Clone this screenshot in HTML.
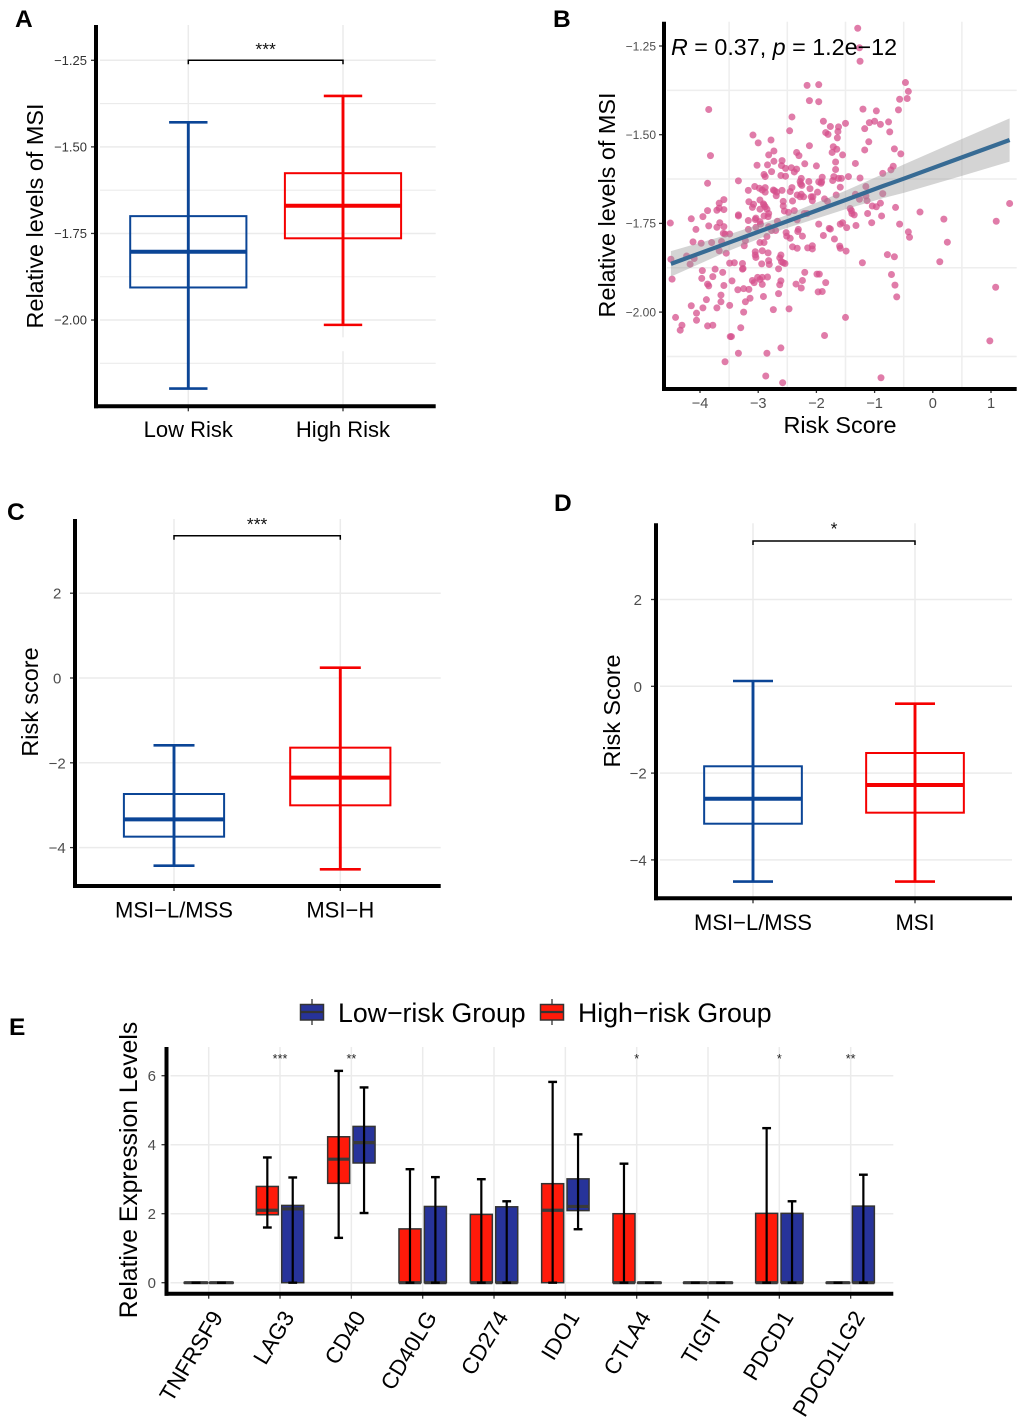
<!DOCTYPE html>
<html lang="en">
<head>
<meta charset="utf-8">
<title>Risk score and MSI panels</title>
<style>
html,body{margin:0;padding:0;background:#fff;}
svg{display:block;font-family:"Liberation Sans",Arial,sans-serif;}
.panel-letter{font-size:24.5px;font-weight:700;fill:#000;}
.title{font-size:23.4px;fill:#000;}
.cat{font-size:22px;fill:#000;}
.legend-text{font-size:26.7px;fill:#000;}
</style>
</head>
<body>
<svg id="chart" width="1020" height="1420" viewBox="0 0 1020 1420" xmlns="http://www.w3.org/2000/svg">
  <rect x="0" y="0" width="1020" height="1420" fill="#fff"/>
  <text class="panel-letter" x="15" y="27">A</text>
  <text class="panel-letter" x="553" y="27">B</text>
  <text class="panel-letter" x="7" y="520">C</text>
  <text class="panel-letter" x="554" y="511">D</text>
  <text class="panel-letter" x="9" y="1035">E</text>

  <g id="panel-a"></g>
  <g id="panel-b"></g>
  <g id="panel-c"></g>
  <g id="panel-d"></g>
  <g id="panel-e"></g>

  <text class="title" transform="translate(43,216) rotate(-90)" text-anchor="middle">Relative levels of MSI</text>
  <text class="title" transform="translate(615,205) rotate(-90)" text-anchor="middle">Relative levels of MSI</text>
  <text class="title" x="840" y="433" text-anchor="middle">Risk Score</text>
  <text x="671" y="55" style="font-size:23.3px"><tspan font-style="italic">R</tspan> = 0.37, <tspan font-style="italic">p</tspan> = 1.2e−12</text>
  <text class="title" transform="translate(38,702) rotate(-90)" text-anchor="middle">Risk score</text>
  <text class="title" transform="translate(620,711) rotate(-90)" text-anchor="middle">Risk Score</text>
  <text transform="translate(137,1170) rotate(-90)" text-anchor="middle" style="font-size:24.7px">Relative Expression Levels</text>

  <g>
    <line x1="312" y1="999" x2="312" y2="1025" stroke="#333" stroke-width="1.3"/>
    <rect x="300.5" y="1004.5" width="23" height="15.5" fill="#27339a" stroke="#333" stroke-width="1.5"/>
    <line x1="300.5" y1="1012" x2="323.5" y2="1012" stroke="#333" stroke-width="2.2"/>
    <text class="legend-text" x="338" y="1022">Low−risk Group</text>
    <line x1="552" y1="999" x2="552" y2="1025" stroke="#333" stroke-width="1.3"/>
    <rect x="540.5" y="1004.5" width="23" height="15.5" fill="#ff1a0a" stroke="#333" stroke-width="1.5"/>
    <line x1="540.5" y1="1012" x2="563.5" y2="1012" stroke="#333" stroke-width="2.2"/>
    <text class="legend-text" x="578" y="1022">High−risk Group</text>
  </g>
</svg>

<script>
// ---- Panel A data: [lower whisker, Q1, median, Q3, upper whisker]
const panelACategories = ['Low Risk', 'High Risk'];
const panelATicks = [-1.25, -1.5, -1.75, -2];
const panelAMinorTicks = [-1.375, -1.625, -1.875, -2.125];
const panelALowRisk = [-2.198, -1.906, -1.803, -1.70, -1.429];
const panelAHighRisk = [-2.014, -1.764, -1.670, -1.576, -1.353];

// ---- Panel C data
const panelCCategories = ['MSI−L/MSS', 'MSI−H'];
const panelCTicks = [2, 0, -2, -4];
const panelCLow = [-4.426, -3.742, -3.333, -2.736, -1.587];
const panelCHigh = [-4.513, -3.003, -2.351, -1.643, 0.243];

// ---- Panel D data
const panelDCategories = ['MSI−L/MSS', 'MSI'];
const panelDTicks = [2, 0, -2, -4];
const panelDLow = [-4.50, -3.166, -2.59, -1.843, 0.122];
const panelDHigh = [-4.50, -2.912, -2.274, -1.537, -0.40];

// ---- Panel B data
const scatterXTicks = [-4, -3, -2, -1, 0, 1];
const scatterXMinor = [-3.5, -2.5, -1.5, -0.5, 0.5];
const scatterYTicks = [-1.25, -1.5, -1.75, -2];
const scatterYMinor = [-1.375, -1.625, -1.875, -2.125];
const riskScores = [
-1.29,-1.26,-1.25,-2.16,-1.96,-0.47,-0.42,-0.57,-0.44,-2.12,
-1.96,-3.85,-1.20,-0.97,-0.59,-2.42,-1.88,-1.76,-1.62,-1.63,
-1.50,-1.09,-1.00,-0.90,-0.76,-0.74,-1.17,-2.46,-3.09,-1.84,
-1.80,-1.64,-2.78,-3.00,-1.10,-2.12,-1.71,-1.65,-1.73,-1.17,
-0.66,-0.55,-2.73,-2.82,-3.82,-2.34,-2.30,-1.55,-1.67,-1.33,
-2.59,-2.73,-2.60,-3.02,-2.84,-2.20,-2.00,-0.68,-0.72,-0.86,
-1.67,-2.53,-2.43,-2.34,-2.38,-2.77,-2.90,-2.88,-2.61,-2.53,
-1.70,-1.62,-1.57,-1.45,-1.90,-1.25,-1.72,-2.26,-2.28,-2.13,
-1.96,-1.91,-1.92,-2.27,-3.34,-3.87,-2.25,-3.06,-2.98,-2.88,
-2.42,-2.11,-1.59,-1.15,-3.17,-2.93,-2.74,-2.72,-2.88,-2.68,
-2.59,-2.45,-1.98,-0.86,-2.33,-2.26,-2.22,-2.28,-2.69,-2.09,
-2.06,-1.66,-1.33,-1.26,-1.15,-3.59,-3.67,-3.16,-3.08,-2.97,
-2.91,-2.57,-2.41,-2.07,-1.86,-1.81,-1.13,-0.90,-1.04,-0.97,
-0.64,1.32,-3.10,-3.71,-3.67,-3.59,-3.87,-2.90,-2.88,-2.97,
-2.85,-2.82,-2.55,-2.48,-2.38,-2.57,-2.21,-2.16,-1.42,-1.40,
-1.12,-0.22,-3.95,-4.15,-3.34,-3.34,-3.04,-3.05,-2.97,-2.83,
-2.90,-1.39,-1.35,-0.88,-4.51,-3.66,-3.17,-2.33,-2.67,-1.96,
-1.55,-1.59,-1.48,-1.32,-1.05,-0.57,0.19,1.09,-3.85,-3.71,
-3.59,-4.07,-3.04,-2.96,-2.82,-1.78,-2.31,-2.32,-2.24,-2.52,
-2.51,-2.45,-2.77,-2.70,-2.85,-3.17,-3.22,-3.24,-2.97,-2.90,
-4.12,-3.98,-3.80,-3.63,-3.57,-3.49,-3.60,-3.67,-3.55,-4.23,
-4.17,-4.10,-4.50,-4.48,-3.96,-3.74,-3.61,-3.97,-3.78,-3.87,
-3.85,-3.59,-3.45,-3.49,-3.41,-3.27,-3.26,-3.27,-3.05,-3.05,
-3.04,-2.93,-2.83,-2.61,-2.63,-2.60,-2.57,-2.54,-2.82,-2.81,
-2.94,-2.65,-2.20,-1.99,-1.95,-3.10,-3.07,-3.01,-2.93,-2.97,
-2.84,-2.93,-2.61,-2.63,-2.35,-2.24,-2.26,-1.84,-3.35,-3.25,
-3.16,-3.64,-3.64,-3.89,-4.15,-3.95,-3.71,-4.06,-3.49,-3.22,
-3.14,-2.91,-2.65,-1.97,-1.90,-2.74,-2.47,-3.25,-4.42,-4.06,
-4.31,-4.34,-3.87,-3.78,-3.30,-3.48,-3.46,-1.50,-1.86,-3.34,
-2.85,-2.61,-3.57,-2.87,-2.58,-0.89,0.98,1.08,0.12,0.25,
-0.40,-0.42,-0.78,-0.66,-0.71,-0.65,-0.62,-1.21,-1.49,-1.59,
-1.60,-1.69,-1.88,-1.76,-2.07,-2.07,-2.15,-2.33,-2.41
];
const msiLevels = [
-1.200,-1.255,-1.293,-1.361,-1.359,-1.353,-1.378,-1.400,-1.398,-1.404,
-1.407,-1.429,-1.428,-1.433,-1.430,-1.450,-1.462,-1.477,-1.478,-1.491,
-1.468,-1.466,-1.462,-1.471,-1.464,-1.492,-1.483,-1.489,-1.501,-1.494,
-1.499,-1.509,-1.515,-1.523,-1.520,-1.531,-1.534,-1.541,-1.550,-1.543,
-1.540,-1.554,-1.546,-1.557,-1.559,-1.550,-1.559,-1.557,-1.577,-1.581,
-1.573,-1.575,-1.587,-1.586,-1.585,-1.582,-1.588,-1.589,-1.599,-1.609,
-1.598,-1.595,-1.593,-1.597,-1.605,-1.604,-1.612,-1.618,-1.615,-1.617,
-1.618,-1.623,-1.623,-1.618,-1.620,-1.622,-1.629,-1.623,-1.632,-1.632,
-1.633,-1.633,-1.637,-1.639,-1.630,-1.637,-1.643,-1.646,-1.651,-1.649,
-1.649,-1.652,-1.648,-1.646,-1.657,-1.656,-1.656,-1.658,-1.662,-1.662,
-1.657,-1.660,-1.662,-1.666,-1.670,-1.668,-1.675,-1.675,-1.672,-1.675,
-1.675,-1.670,-1.668,-1.682,-1.673,-1.683,-1.693,-1.689,-1.696,-1.684,
-1.695,-1.688,-1.687,-1.686,-1.681,-1.688,-1.686,-1.693,-1.701,-1.703,
-1.705,-1.694,-1.705,-1.713,-1.707,-1.711,-1.714,-1.698,-1.703,-1.710,
-1.710,-1.722,-1.715,-1.719,-1.714,-1.701,-1.722,-1.722,-1.708,-1.714,
-1.722,-1.718,-1.731,-1.737,-1.726,-1.729,-1.735,-1.739,-1.745,-1.731,
-1.729,-1.722,-1.726,-1.729,-1.749,-1.748,-1.742,-1.740,-1.744,-1.752,
-1.748,-1.752,-1.762,-1.756,-1.748,-1.752,-1.738,-1.744,-1.757,-1.761,
-1.759,-1.767,-1.761,-1.752,-1.759,-1.764,-1.767,-1.773,-1.786,-1.776,
-1.786,-1.792,-1.770,-1.770,-1.787,-1.767,-1.799,-1.813,-1.804,-1.804,
-1.802,-1.806,-1.804,-1.801,-1.780,-1.780,-1.778,-1.827,-1.834,-1.842,
-1.865,-1.849,-1.851,-1.907,-1.883,-1.879,-1.888,-1.905,-1.900,-1.921,
-1.926,-1.925,-1.912,-1.862,-1.861,-1.863,-1.877,-1.879,-1.830,-1.839,
-1.846,-1.827,-1.833,-1.839,-1.847,-1.858,-1.861,-1.863,-1.855,-1.866,
-1.864,-1.878,-1.888,-1.893,-1.893,-1.911,-1.917,-1.902,-1.902,-1.908,
-1.901,-1.922,-1.912,-1.923,-1.921,-1.911,-1.932,-1.917,-1.937,-1.934,
-1.936,-1.952,-1.971,-1.965,-1.982,-1.988,-1.988,-2.003,-1.981,-1.971,
-1.961,-1.956,-1.948,-1.943,-1.942,-1.993,-1.991,-2.000,-2.015,-2.023,
-2.037,-2.051,-2.039,-2.037,-2.044,-2.069,-2.069,-2.015,-2.066,-2.116,
-2.116,-2.101,-2.140,-2.180,-2.199,-2.185,-2.081,-1.930,-1.858,-1.803,
-1.789,-1.774,-1.838,-1.844,-1.894,-1.924,-1.957,-1.861,-1.828,-1.820,
-1.814,-1.794,-1.784,-1.766,-1.813,-1.822,-1.819,-1.820,-1.816
];
const fitX = [-4.5, -3.5, -2.6, -1.5, -0.86, -0.5, 0.5, 1.32];
const fitY = [-1.864, -1.804, -1.750, -1.684, -1.645, -1.624, -1.564, -1.515];
const fitUpper = [-1.828, -1.781, -1.732, -1.658, -1.611, -1.584, -1.512, -1.454];
const fitLower = [-1.900, -1.827, -1.768, -1.710, -1.679, -1.664, -1.616, -1.576];

// ---- Panel E data (one entry per gene)
const geneNames = ['TNFRSF9','LAG3','CD40','CD40LG','CD274','IDO1','CTLA4','TIGIT','PDCD1','PDCD1LG2'];
const geneStars = ['','***','**','','','','*','','*','**'];
const geneTicks = [0, 2, 4, 6];
const highRiskLower = [0, 1.60, 1.30, 0, 0, 0, 0, 0, 0, 0];
const highRiskQ1 = [0, 1.97, 2.88, 0, 0, 0, 0, 0, 0, 0];
const highRiskMedian = [0, 2.10, 3.58, 0, 0, 2.10, 0, 0, 0, 0];
const highRiskQ3 = [0, 2.79, 4.23, 1.56, 1.98, 2.87, 2.00, 0, 2.01, 0];
const highRiskUpper = [0, 3.63, 6.14, 3.29, 3.00, 5.82, 3.45, 0, 4.48, 0];
const lowRiskLower = [0, 0, 2.02, 0, 0, 1.55, 0, 0, 0, 0];
const lowRiskQ1 = [0, 0, 3.47, 0, 0, 2.09, 0, 0, 0, 0];
const lowRiskMedian = [0, 2.14, 4.06, 0, 0, 2.21, 0, 0, 0, 0];
const lowRiskQ3 = [0, 2.24, 4.53, 2.21, 2.20, 3.01, 0, 0, 2.01, 2.22];
const lowRiskUpper = [0, 3.05, 5.66, 3.06, 2.36, 4.30, 0, 0, 2.36, 3.13];

const NS = 'http://www.w3.org/2000/svg';
const GRID = '#ebebeb';
const TICKTEXT = '#4d4d4d';
const BLUE = '#0b4596';
const RED = '#f50000';

function addLine(parent, name, x1, y1, x2, y2, color, width) {
  const el = document.createElementNS(NS, 'line');
  
  
  el.setAttribute('x1', x1);
  el.setAttribute('y1', y1);
  el.setAttribute('x2', x2);
  el.setAttribute('y2', y2);
  el.setAttribute('stroke', color);
  el.setAttribute('stroke-width', width);
  parent.appendChild(el);
  return el;
}
function addRect(parent, name, x, y, w, h, fill, stroke, sw) {
  const el = document.createElementNS(NS, 'rect');
  
  
  el.setAttribute('x', x);
  el.setAttribute('y', y);
  el.setAttribute('width', w);
  el.setAttribute('height', h);
  el.setAttribute('fill', fill);
  el.setAttribute('stroke', stroke);
  el.setAttribute('stroke-width', sw);
  parent.appendChild(el);
  return el;
}
function addText(parent, name, x, y, str, size, color, anchor, transform) {
  const el = document.createElementNS(NS, 'text');
  
  
  if (transform) {
    el.setAttribute('transform', transform);
  } else {
    el.setAttribute('x', x);
    el.setAttribute('y', y);
  }
  el.setAttribute('font-size', size);
  el.setAttribute('fill', color);
  el.setAttribute('text-anchor', anchor);
  el.textContent = str;
  parent.appendChild(el);
  return el;
}
function addPath(parent, name, d, fill, stroke, sw, opacity) {
  const el = document.createElementNS(NS, 'path');
  
  
  el.setAttribute('d', d);
  el.setAttribute('fill', fill);
  el.setAttribute('stroke', stroke);
  el.setAttribute('stroke-width', sw);
  el.setAttribute('fill-opacity', opacity);
  parent.appendChild(el);
  return el;
}
function addDot(parent, name, cx, cy, r, fill, opacity) {
  const el = document.createElementNS(NS, 'circle');
  
  
  el.setAttribute('cx', cx);
  el.setAttribute('cy', cy);
  el.setAttribute('r', r);
  el.setAttribute('fill', fill);
  el.setAttribute('fill-opacity', opacity);
  parent.appendChild(el);
  return el;
}
function minus(str) { return String(str).replace('-', '−'); }

function drawAxes(g, prefix, left, right, top, bottom) {
  addLine(g, prefix + '-y-axis-line', left, top, left, bottom + 2, '#000', 4);
  addLine(g, prefix + '-x-axis-line', left - 2, bottom, right, bottom, '#000', 4);
}

function drawBoxPanel(p) {
  const g = document.getElementById(p.id);
  const y = v => p.y0 - v * p.k;
  const x = i => p.x0 + i * p.dx;
  // grid
  p.ticks.forEach(t => addLine(g, p.id + '-gridline-major', p.left + 4, y(t), p.right, y(t), GRID, 1.5));
  (p.minor || []).forEach(t => addLine(g, p.id + '-gridline-minor', p.left + 4, y(t), p.right, y(t), GRID, 1.1));
  p.categories.forEach((c, i) => addLine(g, p.id + '-gridline-vertical', x(i), p.top, x(i), p.bottom - 2, GRID, 1.5));
  if (p.gridGap) {
    addLine(g, p.id + '-gridline-gap', x(1), y(p.gridGap[0]), x(1), y(p.gridGap[1]), '#fff', 2.2);
  }
  // boxes
  p.series.forEach((s, i) => {
    const col = i === 0 ? BLUE : RED;
    const nm = p.id + '-' + (i === 0 ? 'low' : 'high');
    addRect(g, nm + '-box', x(i) - p.boxW / 2, y(s[3]), p.boxW, y(s[1]) - y(s[3]), 'none', col, 2);
    addLine(g, nm + '-whisker', x(i), y(s[0]), x(i), y(s[4]), col, 2.9);
    addLine(g, nm + '-cap-lower', x(i) - p.capW / 2, y(s[0]), x(i) + p.capW / 2, y(s[0]), col, 2.6);
    addLine(g, nm + '-cap-upper', x(i) - p.capW / 2, y(s[4]), x(i) + p.capW / 2, y(s[4]), col, 2.6);
    addLine(g, nm + '-median', x(i) - p.boxW / 2, y(s[2]), x(i) + p.boxW / 2, y(s[2]), col, 4);
  });
  // bracket
  const by = p.bracketY, x1 = x(0), x2 = x(1);
  addPath(g, p.id + '-significance-bracket', 'M' + x1 + ' ' + (by + 4) + 'V' + by + 'H' + x2 + 'V' + (by + 4), 'none', '#000', 1.5, 0);
  addText(g, p.id + '-significance-stars', (x1 + x2) / 2 + p.starDx, p.starY, p.stars, 17.5, '#111', 'middle');
  // ticks
  p.ticks.forEach(t => {
    addLine(g, p.id + '-y-tick', p.left - 5, y(t), p.left, y(t), '#333', 1.3);
    const lx = t < 0 ? p.negLabelX : p.posLabelX;
    addText(g, p.id + '-y-tick-label', lx, y(t) + p.labelDy, p.fmt(t), p.labelSize, p.labelColor || TICKTEXT, 'end');
  });
  p.categories.forEach((c, i) => {
    addLine(g, p.id + '-x-tick', x(i), p.bottom, x(i), p.bottom + 5, '#333', 1.3);
    addText(g, p.id + '-x-label', x(i), p.catY, c, 22, '#000', 'middle');
  });
  drawAxes(g, p.id, p.left, p.right, p.top, p.bottom);
}

drawBoxPanel({
  id: 'panel-a', left: 96, right: 435.7, top: 25, bottom: 406.3,
  y0: 60.3 - 1.25 * 346.3, k: 346.3, x0: 188.3, dx: 154.7,
  boxW: 116.2, capW: 38.4, ticks: panelATicks, minor: panelAMinorTicks,
  categories: panelACategories, series: [panelALowRisk, panelAHighRisk],
  bracketY: 60.3, stars: '***', starY: 55, starDx: 0, gridGap: [-2.05, -2.09],
  negLabelX: 87, posLabelX: 87, labelDy: 4.5, labelSize: 13, labelColor: '#333', catY: 437,
  fmt: t => minus(t.toFixed(2))
});
drawBoxPanel({
  id: 'panel-c', left: 75, right: 440.7, top: 519, bottom: 886,
  y0: 678, k: 42.4, x0: 174, dx: 166.3,
  boxW: 100.2, capW: 41, ticks: panelCTicks,
  categories: panelCCategories, series: [panelCLow, panelCHigh],
  bracketY: 535.7, stars: '***', starY: 530, starDx: 0,
  negLabelX: 65.7, posLabelX: 61.3, labelDy: 5.5, labelSize: 15, catY: 917.7,
  fmt: t => minus(t)
});
drawBoxPanel({
  id: 'panel-d', left: 656, right: 1012, top: 523.3, bottom: 898.3,
  y0: 686.3, k: 43.4, x0: 753, dx: 162,
  boxW: 97.7, capW: 40, ticks: panelDTicks,
  categories: panelDCategories, series: [panelDLow, panelDHigh],
  bracketY: 541, stars: '*', starY: 534.5, starDx: 0,
  negLabelX: 646.7, posLabelX: 642, labelDy: 5.5, labelSize: 15, catY: 930,
  fmt: t => minus(t)
});

// ---- Panel B
(function () {
  const g = document.getElementById('panel-b');
  const x = v => 932.8 + v * 58.2;
  const y = v => 46 - (v + 1.25) * 354.8;
  const left = 664, right = 1016.7, top = 21.7, bottom = 389;
  scatterYMinor.forEach(t => addLine(g, 'panel-b-gridline-horizontal', left + 3, y(t), right, y(t), '#eeeeee', 1.5));
  scatterXMinor.forEach(t => addLine(g, 'panel-b-gridline-vertical', x(t), top, x(t), bottom - 2, '#eeeeee', 1.5));
  riskScores.forEach((v, i) => addDot(g, 'panel-b-point', x(v), y(msiLevels[i]), 3.5, '#d6508c', 0.75));
  let band = '';
  fitX.forEach((v, i) => { band += (i ? 'L' : 'M') + x(v) + ' ' + y(fitUpper[i]); });
  for (let i = fitX.length - 1; i >= 0; i--) { band += 'L' + x(fitX[i]) + ' ' + y(fitLower[i]); }
  addPath(g, 'panel-b-confidence-band', band + 'Z', '#999999', 'none', 0, 0.42);
  let line = '';
  fitX.forEach((v, i) => { line += (i ? 'L' : 'M') + x(v) + ' ' + y(fitY[i]); });
  addPath(g, 'panel-b-regression-line', line, 'none', '#376b94', 4.2, 0);
  scatterYTicks.forEach(t => {
    addLine(g, 'panel-b-y-tick', left - 5, y(t), left, y(t), '#333', 1.3);
    addText(g, 'panel-b-y-tick-label', 656, y(t) + 4.3, minus(t.toFixed(2)), 12, TICKTEXT, 'end');
  });
  scatterXTicks.forEach(t => {
    addLine(g, 'panel-b-x-tick', x(t), bottom, x(t), bottom + 4, '#333', 1.3);
    addText(g, 'panel-b-x-tick-label', x(t), 408, minus(t), 14.6, TICKTEXT, 'middle');
  });
  drawAxes(g, 'panel-b', left, right, top, bottom);
})();

// ---- Panel E
(function () {
  const g = document.getElementById('panel-e');
  const left = 166.5, right = 893.3, top = 1047, bottom = 1293.7;
  const y = v => 1282.7 - v * 34.5;
  const x = i => 208.7 + i * 71.33;
  const offset = 12.7, half = 11, cap = 4.4;
  geneTicks.forEach(t => addLine(g, 'panel-e-gridline-horizontal', left + 4, y(t), right, y(t), GRID, 1.5));
  geneNames.forEach((n, i) => addLine(g, 'panel-e-gridline-vertical', x(i), top, x(i), bottom - 2, GRID, 1.5));
  function box(name, cx, lo, q1, med, q3, hi, fill) {
    addRect(g, name + '-box', cx - half, y(q3), half * 2, y(q1) - y(q3), fill, '#333', 1.5);
    const m = addLine(g, name + '-median', cx - half, y(med), cx + half, y(med), '#3a3a3a', 3.2);
    m.setAttribute('stroke-linecap', q1 === q3 ? 'round' : 'butt');
    addLine(g, name + '-whisker', cx, y(lo), cx, y(hi), '#000', 2.2);
    addLine(g, name + '-cap-lower', cx - cap, y(lo), cx + cap, y(lo), '#000', 2.4);
    addLine(g, name + '-cap-upper', cx - cap, y(hi), cx + cap, y(hi), '#000', 2.4);
  }
  geneNames.forEach((n, i) => {
    box('panel-e-high-' + n.toLowerCase(), x(i) - offset, highRiskLower[i], highRiskQ1[i], highRiskMedian[i], highRiskQ3[i], highRiskUpper[i], '#ff1a0a');
    box('panel-e-low-' + n.toLowerCase(), x(i) + offset, lowRiskLower[i], lowRiskQ1[i], lowRiskMedian[i], lowRiskQ3[i], lowRiskUpper[i], '#27339a');
    if (geneStars[i]) {
      addText(g, 'panel-e-significance-' + n.toLowerCase(), x(i), 1063, geneStars[i], 12.6, '#222', 'middle');
    }
    addLine(g, 'panel-e-x-tick', x(i), bottom, x(i), bottom + 5, '#333', 1.3);
    addText(g, 'panel-e-gene-label-' + n.toLowerCase(), 0, 0, n, 22.4, '#000', 'end',
      'translate(' + (x(i) + 15) + ',1317) rotate(-59)');
  });
  geneTicks.forEach(t => {
    addLine(g, 'panel-e-y-tick', left - 5, y(t), left, y(t), '#333', 1.3);
    addText(g, 'panel-e-y-tick-label', 156, y(t) + 5.5, t, 15, TICKTEXT, 'end');
  });
  drawAxes(g, 'panel-e', left, right, top, bottom);
})();
</script>
</body>
</html>
